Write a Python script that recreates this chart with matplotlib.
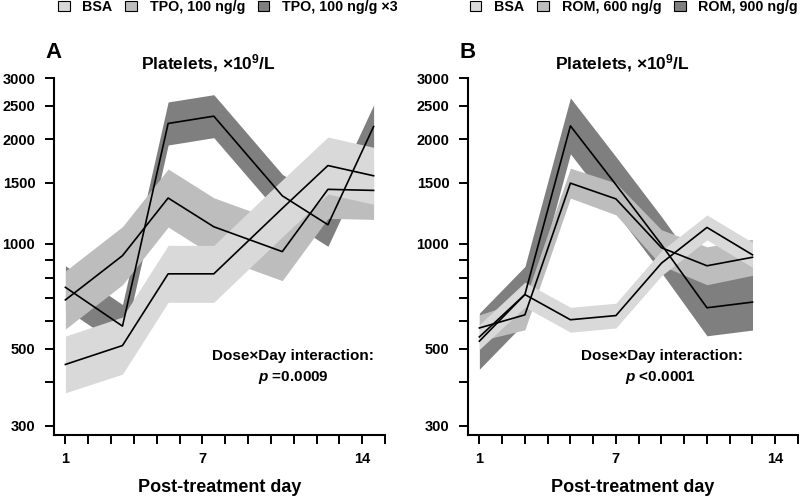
import matplotlib
matplotlib.use("Agg")
import matplotlib.pyplot as plt
from matplotlib.patches import Patch

plt.rcParams['font.family'] = ['Liberation Sans', 'DejaVu Sans']
plt.rcParams['font.weight'] = 'bold'
plt.rcParams['mathtext.fontset'] = 'custom'
plt.rcParams['mathtext.rm'] = 'Liberation Sans:bold'
plt.rcParams['mathtext.bf'] = 'Liberation Sans:bold'
plt.rcParams['mathtext.it'] = 'Liberation Sans:bold:italic'

light = '#d9d9d9'
medium = '#bdbdbd'
dark = '#7f7f7f'

# panel A: TPO
days_a = [1, 3.5, 5.5, 7.5, 10.5, 12.5, 14.5]
bsa_a = [450, 510, 820, 820, 1265, 1680, 1570]
bsa_a_lo = [373, 422, 679, 679, 1048, 1391, 1300]
bsa_a_hi = [543, 616, 990, 990, 1528, 2029, 1896]
tpo1_a = [690, 925, 1355, 1120, 950, 1435, 1425]
tpo1_a_lo = [569, 763, 1118, 924, 784, 1184, 1176]
tpo1_a_hi = [836, 1121, 1642, 1357, 1151, 1739, 1727]
tpo3_a = [750, 580, 2220, 2330, 1375, 1135, 2175]
tpo3_a_lo = [650, 503, 1925, 2021, 1193, 984, 1886]
tpo3_a_hi = [865, 669, 2560, 2686, 1585, 1309, 2508]
labels_a = ['BSA', 'TPO, 100 ng/g', 'TPO, 100 ng/g \u00d73']

# panel B: ROM
days_b = [1, 3, 5, 7, 9, 11, 13]
bsa_b = [540, 715, 605, 622, 880, 1115, 930]
bsa_b_lo = [497, 658, 557, 573, 810, 1027, 856]
bsa_b_hi = [586, 776, 657, 675, 956, 1211, 1010]
rom6_b = [573, 625, 1495, 1347, 975, 865, 915]
rom6_b_lo = [526, 566, 1354, 1212, 866, 763, 812]
rom6_b_hi = [625, 690, 1651, 1497, 1098, 981, 1031]
rom9_b = [525, 715, 2185, 1480, 995, 655, 680]
rom9_b_lo = [436, 594, 1815, 1230, 827, 544, 565]
rom9_b_hi = [632, 861, 2630, 1781, 1198, 788, 818]
labels_b = ['BSA', 'ROM, 600 ng/g', 'ROM, 900 ng/g']

yticks = [300, 400, 500, 600, 700, 800, 900, 1000, 1500, 2000, 2500, 3000]
ylabels = ['300', '', '500', '', '', '', '', '1000', '1500', '2000', '2500', '3000']
xticks = list(range(1, 16))
xlabels = ['1' if d == 1 else '7' if d == 7 else '14' if d == 14 else '' for d in xticks]


def panel(ax, days, groups, labels, leg_x):
    # groups: (mean, lo, hi, color), drawn dark first so light sits on top
    for mean, lo, hi, col in groups:
        ax.fill_between(days, lo, hi, color=col, linewidth=0, zorder=1)
    for mean, lo, hi, col in groups:
        ax.plot(days, mean, color='black', lw=1.2, zorder=3)
    ax.set_yscale('log')
    ax.set_ylim(282, 3000)
    ax.set_xlim(0.5, 15)
    ax.set_yticks(yticks)
    ax.set_yticklabels(ylabels)
    ax.minorticks_off()
    ax.set_xticks(xticks)
    ax.set_xticklabels(xlabels)
    ax.tick_params(axis='both', length=6.5, width=1.4, labelsize=10.5)
    ax.tick_params(axis='y', pad=7)
    ax.tick_params(axis='x', pad=6)
    for s in ['top', 'right']:
        ax.spines[s].set_visible(False)
    for s in ['left', 'bottom']:
        ax.spines[s].set_linewidth(1.5)
    ax.set_xlabel('Post-treatment day', fontsize=13, fontweight='bold', labelpad=9)
    handles = [Patch(facecolor=c, edgecolor='black', linewidth=0.8, label=l)
               for c, l in zip([light, medium, dark], labels)]
    ax.legend(handles=handles, loc='center', bbox_to_anchor=(leg_x, 0.986),
              bbox_transform=fig.transFigure, ncol=3, frameon=False,
              fontsize=10.3, borderpad=0, handlelength=0.8, handleheight=0.75,
              handletextpad=0.9, columnspacing=0.9)


fig = plt.figure(figsize=(8, 4.96), dpi=100)
ax_a = fig.add_axes([54 / 800, 61 / 496, 331 / 800, 357 / 496])
ax_b = fig.add_axes([468 / 800, 61 / 496, 330 / 800, 357 / 496])

panel(ax_a, days_a,
      [(tpo3_a, tpo3_a_lo, tpo3_a_hi, dark),
       (tpo1_a, tpo1_a_lo, tpo1_a_hi, medium),
       (bsa_a, bsa_a_lo, bsa_a_hi, light)],
      labels_a, 228 / 800)
panel(ax_b, days_b,
      [(rom9_b, rom9_b_lo, rom9_b_hi, dark),
       (rom6_b, rom6_b_lo, rom6_b_hi, medium),
       (bsa_b, bsa_b_lo, bsa_b_hi, light)],
      labels_b, 634 / 800)

title = 'Platelets, \u00d710$^{9}$/L'
fig.text(208 / 800, 1 - 63 / 496, title, ha='center', va='center', fontsize=12.5)
fig.text(622 / 800, 1 - 63 / 496, title, ha='center', va='center', fontsize=12.5)
fig.text(54 / 800, 1 - 53 / 496, 'A', ha='center', va='center', fontsize=16)
fig.text(468 / 800, 1 - 53 / 496, 'B', ha='center', va='center', fontsize=16)

fig.text(293 / 800, 1 - 356 / 496, 'Dose\u00d7Day interaction:', ha='center', va='center', fontsize=11)
fig.text(293 / 800, 1 - 377 / 496, '$p$ =0.0009', ha='center', va='center', fontsize=11)
fig.text(662 / 800, 1 - 356 / 496, 'Dose\u00d7Day interaction:', ha='center', va='center', fontsize=11)
fig.text(661 / 800, 1 - 377 / 496, '$p$ <0.0001', ha='center', va='center', fontsize=11)

plt.savefig('out.png', dpi=100)
